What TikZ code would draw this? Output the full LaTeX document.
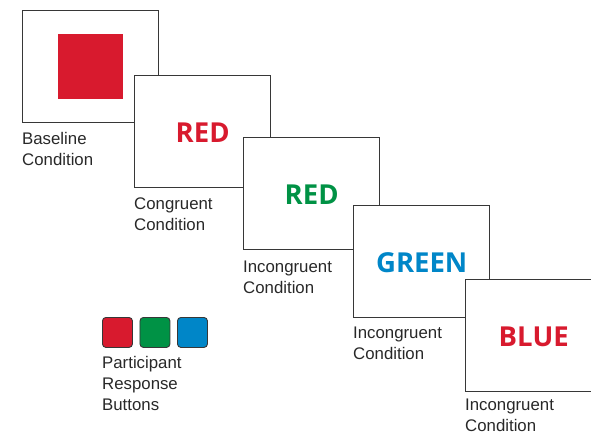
\documentclass[tikz,border=0pt]{standalone}
\usepackage{fontspec}
\setmainfont{Liberation Sans}
\newfontfamily\wordfont{Open Sans}[UprightFont=* Bold]
\definecolor{stred}{RGB}{216,26,46}
\definecolor{stgreen}{RGB}{0,146,69}
\definecolor{stblue}{RGB}{0,134,200}
\definecolor{edgegray}{RGB}{55,55,55}
\definecolor{labelgray}{RGB}{40,40,40}
\tikzset{
  card/.style={draw=edgegray, line width=1.4pt, fill=white, minimum width=136pt,
    minimum height=112pt, inner sep=0pt, anchor=north west},
  word/.style={font=\wordfont\fontsize{27.5}{27.5}\selectfont, anchor=base},
  caption/.style={font=\fontsize{16.8}{21}\selectfont, text=labelgray, anchor=north west,
    inner sep=0pt, align=left},
  button/.style={draw=edgegray, line width=0.9pt, rounded corners=3.5pt,
    minimum width=30pt, minimum height=30pt, inner sep=0pt, anchor=north west}
}
\begin{document}
\begin{tikzpicture}[x=1pt, y=-1pt]
\useasboundingbox (0,0) rectangle (591,435);
\clip (0,0) rectangle (591,435);

% stimulus cards, each one overlapping the previous
\node[card] (c1) at (22,10) {};
\fill[stred] (58,34) rectangle (123,99);
\node[card] (c2) at (134,75) {};
\node[card] (c3) at (243,137) {};
\node[card] (c4) at (353,205) {};
\node[card] (c5) at (465,279) {};

% colour words
\node[word, text=stred]   (w2) at ([yshift=-10.5pt]c2.center) {RED};
\node[word, text=stgreen] (w3) at ([yshift=-10.5pt]c3.center) {RED};
\node[word, text=stblue]  (w4) at ([yshift=-10.5pt]c4.center) {GREEN};
\node[word, text=stred]   (w5) at ([yshift=-10.5pt]c5.center) {BLUE};

% condition captions
\node[caption] (l1) at ([yshift=-9pt]c1.south west) {Baseline\\Condition};
\node[caption] (l2) at ([yshift=-9pt]c2.south west) {Congruent\\Condition};
\node[caption] (l3) at ([yshift=-10.5pt]c3.south west) {Incongruent\\Condition};
\node[caption] (l4) at ([yshift=-8pt]c4.south west) {Incongruent\\Condition};
\node[caption] (l5) at ([yshift=-6pt]c5.south west) {Incongruent\\Condition};

% response buttons
\node[button, fill=stred]   (b1) at (102,317) {};
\node[button, fill=stgreen] (b2) at (139.5,317) {};
\node[button, fill=stblue]  (b3) at (177,317) {};
\node[caption] (lb) at (102,356) {Participant\\Response\\Buttons};
\end{tikzpicture}
\end{document}
